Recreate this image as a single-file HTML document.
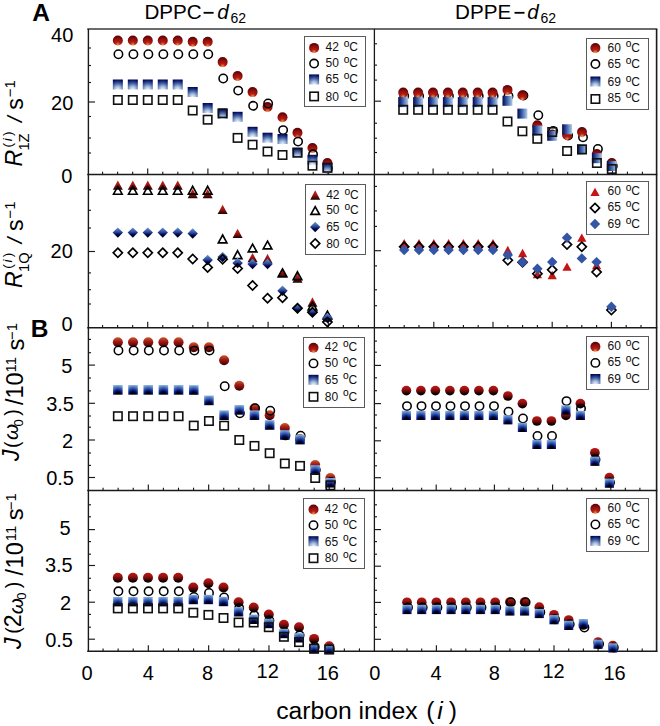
<!DOCTYPE html>
<html><head><meta charset="utf-8"><style>
html,body{margin:0;padding:0;background:#fff;}
body{width:660px;height:726px;overflow:hidden;font-family:"Liberation Sans", sans-serif;}
svg{display:block;}
</style></head><body>
<svg width="660" height="726" viewBox="0 0 660 726" font-family='"Liberation Sans", sans-serif' fill="#000">
<defs>
<radialGradient id="rA" cx="0.5" cy="0.9" r="0.8" fx="0.5" fy="0.92">
  <stop offset="0" stop-color="#e89450"/>
  <stop offset="0.16" stop-color="#d0602a"/>
  <stop offset="0.34" stop-color="#b41c14"/>
  <stop offset="0.7" stop-color="#950e0e"/>
  <stop offset="1" stop-color="#600606"/>
</radialGradient>
<linearGradient id="rB" x1="0" y1="0" x2="0" y2="1">
  <stop offset="0" stop-color="#c4622e"/>
  <stop offset="0.4" stop-color="#a81a16"/>
  <stop offset="0.75" stop-color="#6a0a0a"/>
  <stop offset="1" stop-color="#200404"/>
</linearGradient>
<linearGradient id="rC" x1="0" y1="0" x2="0" y2="1">
  <stop offset="0" stop-color="#b41a14"/>
  <stop offset="0.35" stop-color="#9c1010"/>
  <stop offset="0.62" stop-color="#560707"/>
  <stop offset="0.8" stop-color="#180101"/>
  <stop offset="1" stop-color="#000000"/>
</linearGradient>
<radialGradient id="bA" cx="0.5" cy="1.0" r="1.0">
  <stop offset="0" stop-color="#eef3fa"/>
  <stop offset="0.3" stop-color="#a8bcdc"/>
  <stop offset="0.62" stop-color="#40609e"/>
  <stop offset="0.86" stop-color="#14227a"/>
  <stop offset="1" stop-color="#060848"/>
</radialGradient>
<linearGradient id="bH" x1="0" y1="0" x2="1" y2="0">
  <stop offset="0" stop-color="#02064a"/>
  <stop offset="0.35" stop-color="#2a4a9a"/>
  <stop offset="1" stop-color="#b0cce8"/>
</linearGradient>
<radialGradient id="bB" cx="0.5" cy="1.0" r="1.0">
  <stop offset="0" stop-color="#000000"/>
  <stop offset="0.28" stop-color="#000018"/>
  <stop offset="0.45" stop-color="#0a1a80"/>
  <stop offset="0.72" stop-color="#3a66b4"/>
  <stop offset="1" stop-color="#84aadc"/>
</radialGradient>
<linearGradient id="tR" x1="0" y1="0" x2="0" y2="1">
  <stop offset="0" stop-color="#c42818"/>
  <stop offset="0.5" stop-color="#a01212"/>
  <stop offset="1" stop-color="#1a0202"/>
</linearGradient>
<linearGradient id="dB" x1="0" y1="0" x2="0" y2="1">
  <stop offset="0" stop-color="#6c9ad6"/>
  <stop offset="0.45" stop-color="#2a4a9a"/>
  <stop offset="0.7" stop-color="#000050"/>
  <stop offset="1" stop-color="#000000"/>
</linearGradient>
</defs>
<rect width="660" height="726" fill="#fff"/>
<line x1="87.25" y1="29.0" x2="657.35" y2="29.0" stroke="#3a3a3a" stroke-width="1.6"/>
<line x1="87.25" y1="174.5" x2="657.35" y2="174.5" stroke="#1a1a1a" stroke-width="1.6"/>
<line x1="87.25" y1="327.8" x2="657.35" y2="327.8" stroke="#1a1a1a" stroke-width="1.6"/>
<line x1="87.25" y1="490.5" x2="657.35" y2="490.5" stroke="#1a1a1a" stroke-width="1.6"/>
<line x1="87.25" y1="651.2" x2="657.35" y2="651.2" stroke="#1a1a1a" stroke-width="1.6"/>
<line x1="88.4" y1="29.0" x2="88.4" y2="651.95" stroke="#1a1a1a" stroke-width="1.4"/>
<line x1="374.4" y1="29.0" x2="374.4" y2="651.95" stroke="#1a1a1a" stroke-width="1.3"/>
<line x1="656.6" y1="29.0" x2="656.6" y2="651.95" stroke="#1a1a1a" stroke-width="1.6"/>
<line x1="102.55" y1="174.5" x2="102.55" y2="171.7" stroke="#1a1a1a" stroke-width="1.15"/>
<line x1="117.6" y1="174.5" x2="117.6" y2="171.7" stroke="#1a1a1a" stroke-width="1.15"/>
<line x1="132.65" y1="174.5" x2="132.65" y2="171.7" stroke="#1a1a1a" stroke-width="1.15"/>
<line x1="147.7" y1="174.5" x2="147.7" y2="168.5" stroke="#1a1a1a" stroke-width="1.15"/>
<line x1="162.75" y1="174.5" x2="162.75" y2="171.7" stroke="#1a1a1a" stroke-width="1.15"/>
<line x1="177.8" y1="174.5" x2="177.8" y2="171.7" stroke="#1a1a1a" stroke-width="1.15"/>
<line x1="192.85" y1="174.5" x2="192.85" y2="171.7" stroke="#1a1a1a" stroke-width="1.15"/>
<line x1="207.9" y1="174.5" x2="207.9" y2="168.5" stroke="#1a1a1a" stroke-width="1.15"/>
<line x1="222.95" y1="174.5" x2="222.95" y2="171.7" stroke="#1a1a1a" stroke-width="1.15"/>
<line x1="238.0" y1="174.5" x2="238.0" y2="171.7" stroke="#1a1a1a" stroke-width="1.15"/>
<line x1="253.05" y1="174.5" x2="253.05" y2="171.7" stroke="#1a1a1a" stroke-width="1.15"/>
<line x1="268.1" y1="174.5" x2="268.1" y2="168.5" stroke="#1a1a1a" stroke-width="1.15"/>
<line x1="283.15" y1="174.5" x2="283.15" y2="171.7" stroke="#1a1a1a" stroke-width="1.15"/>
<line x1="298.2" y1="174.5" x2="298.2" y2="171.7" stroke="#1a1a1a" stroke-width="1.15"/>
<line x1="313.25" y1="174.5" x2="313.25" y2="171.7" stroke="#1a1a1a" stroke-width="1.15"/>
<line x1="328.3" y1="174.5" x2="328.3" y2="168.5" stroke="#1a1a1a" stroke-width="1.15"/>
<line x1="343.35" y1="174.5" x2="343.35" y2="171.7" stroke="#1a1a1a" stroke-width="1.15"/>
<line x1="358.4" y1="174.5" x2="358.4" y2="171.7" stroke="#1a1a1a" stroke-width="1.15"/>
<line x1="102.55" y1="327.8" x2="102.55" y2="325.0" stroke="#1a1a1a" stroke-width="1.15"/>
<line x1="117.6" y1="327.8" x2="117.6" y2="325.0" stroke="#1a1a1a" stroke-width="1.15"/>
<line x1="132.65" y1="327.8" x2="132.65" y2="325.0" stroke="#1a1a1a" stroke-width="1.15"/>
<line x1="147.7" y1="327.8" x2="147.7" y2="321.8" stroke="#1a1a1a" stroke-width="1.15"/>
<line x1="162.75" y1="327.8" x2="162.75" y2="325.0" stroke="#1a1a1a" stroke-width="1.15"/>
<line x1="177.8" y1="327.8" x2="177.8" y2="325.0" stroke="#1a1a1a" stroke-width="1.15"/>
<line x1="192.85" y1="327.8" x2="192.85" y2="325.0" stroke="#1a1a1a" stroke-width="1.15"/>
<line x1="207.9" y1="327.8" x2="207.9" y2="321.8" stroke="#1a1a1a" stroke-width="1.15"/>
<line x1="222.95" y1="327.8" x2="222.95" y2="325.0" stroke="#1a1a1a" stroke-width="1.15"/>
<line x1="238.0" y1="327.8" x2="238.0" y2="325.0" stroke="#1a1a1a" stroke-width="1.15"/>
<line x1="253.05" y1="327.8" x2="253.05" y2="325.0" stroke="#1a1a1a" stroke-width="1.15"/>
<line x1="268.1" y1="327.8" x2="268.1" y2="321.8" stroke="#1a1a1a" stroke-width="1.15"/>
<line x1="283.15" y1="327.8" x2="283.15" y2="325.0" stroke="#1a1a1a" stroke-width="1.15"/>
<line x1="298.2" y1="327.8" x2="298.2" y2="325.0" stroke="#1a1a1a" stroke-width="1.15"/>
<line x1="313.25" y1="327.8" x2="313.25" y2="325.0" stroke="#1a1a1a" stroke-width="1.15"/>
<line x1="328.3" y1="327.8" x2="328.3" y2="321.8" stroke="#1a1a1a" stroke-width="1.15"/>
<line x1="343.35" y1="327.8" x2="343.35" y2="325.0" stroke="#1a1a1a" stroke-width="1.15"/>
<line x1="358.4" y1="327.8" x2="358.4" y2="325.0" stroke="#1a1a1a" stroke-width="1.15"/>
<line x1="103.08" y1="490.5" x2="103.08" y2="487.7" stroke="#1a1a1a" stroke-width="1.15"/>
<line x1="118.16" y1="490.5" x2="118.16" y2="487.7" stroke="#1a1a1a" stroke-width="1.15"/>
<line x1="133.24" y1="490.5" x2="133.24" y2="487.7" stroke="#1a1a1a" stroke-width="1.15"/>
<line x1="148.32" y1="490.5" x2="148.32" y2="484.5" stroke="#1a1a1a" stroke-width="1.15"/>
<line x1="163.4" y1="490.5" x2="163.4" y2="487.7" stroke="#1a1a1a" stroke-width="1.15"/>
<line x1="178.48" y1="490.5" x2="178.48" y2="487.7" stroke="#1a1a1a" stroke-width="1.15"/>
<line x1="193.56" y1="490.5" x2="193.56" y2="487.7" stroke="#1a1a1a" stroke-width="1.15"/>
<line x1="208.64" y1="490.5" x2="208.64" y2="484.5" stroke="#1a1a1a" stroke-width="1.15"/>
<line x1="223.72" y1="490.5" x2="223.72" y2="487.7" stroke="#1a1a1a" stroke-width="1.15"/>
<line x1="238.8" y1="490.5" x2="238.8" y2="487.7" stroke="#1a1a1a" stroke-width="1.15"/>
<line x1="253.88" y1="490.5" x2="253.88" y2="487.7" stroke="#1a1a1a" stroke-width="1.15"/>
<line x1="268.96" y1="490.5" x2="268.96" y2="484.5" stroke="#1a1a1a" stroke-width="1.15"/>
<line x1="284.04" y1="490.5" x2="284.04" y2="487.7" stroke="#1a1a1a" stroke-width="1.15"/>
<line x1="299.12" y1="490.5" x2="299.12" y2="487.7" stroke="#1a1a1a" stroke-width="1.15"/>
<line x1="314.2" y1="490.5" x2="314.2" y2="487.7" stroke="#1a1a1a" stroke-width="1.15"/>
<line x1="329.28" y1="490.5" x2="329.28" y2="484.5" stroke="#1a1a1a" stroke-width="1.15"/>
<line x1="344.36" y1="490.5" x2="344.36" y2="487.7" stroke="#1a1a1a" stroke-width="1.15"/>
<line x1="359.44" y1="490.5" x2="359.44" y2="487.7" stroke="#1a1a1a" stroke-width="1.15"/>
<line x1="103.08" y1="651.2" x2="103.08" y2="648.4000000000001" stroke="#1a1a1a" stroke-width="1.15"/>
<line x1="118.16" y1="651.2" x2="118.16" y2="648.4000000000001" stroke="#1a1a1a" stroke-width="1.15"/>
<line x1="133.24" y1="651.2" x2="133.24" y2="648.4000000000001" stroke="#1a1a1a" stroke-width="1.15"/>
<line x1="148.32" y1="651.2" x2="148.32" y2="645.2" stroke="#1a1a1a" stroke-width="1.15"/>
<line x1="163.4" y1="651.2" x2="163.4" y2="648.4000000000001" stroke="#1a1a1a" stroke-width="1.15"/>
<line x1="178.48" y1="651.2" x2="178.48" y2="648.4000000000001" stroke="#1a1a1a" stroke-width="1.15"/>
<line x1="193.56" y1="651.2" x2="193.56" y2="648.4000000000001" stroke="#1a1a1a" stroke-width="1.15"/>
<line x1="208.64" y1="651.2" x2="208.64" y2="645.2" stroke="#1a1a1a" stroke-width="1.15"/>
<line x1="223.72" y1="651.2" x2="223.72" y2="648.4000000000001" stroke="#1a1a1a" stroke-width="1.15"/>
<line x1="238.8" y1="651.2" x2="238.8" y2="648.4000000000001" stroke="#1a1a1a" stroke-width="1.15"/>
<line x1="253.88" y1="651.2" x2="253.88" y2="648.4000000000001" stroke="#1a1a1a" stroke-width="1.15"/>
<line x1="268.96" y1="651.2" x2="268.96" y2="645.2" stroke="#1a1a1a" stroke-width="1.15"/>
<line x1="284.04" y1="651.2" x2="284.04" y2="648.4000000000001" stroke="#1a1a1a" stroke-width="1.15"/>
<line x1="299.12" y1="651.2" x2="299.12" y2="648.4000000000001" stroke="#1a1a1a" stroke-width="1.15"/>
<line x1="314.2" y1="651.2" x2="314.2" y2="648.4000000000001" stroke="#1a1a1a" stroke-width="1.15"/>
<line x1="329.28" y1="651.2" x2="329.28" y2="645.2" stroke="#1a1a1a" stroke-width="1.15"/>
<line x1="344.36" y1="651.2" x2="344.36" y2="648.4000000000001" stroke="#1a1a1a" stroke-width="1.15"/>
<line x1="359.44" y1="651.2" x2="359.44" y2="648.4000000000001" stroke="#1a1a1a" stroke-width="1.15"/>
<line x1="388.25" y1="174.5" x2="388.25" y2="171.7" stroke="#1a1a1a" stroke-width="1.15"/>
<line x1="403.2" y1="174.5" x2="403.2" y2="171.7" stroke="#1a1a1a" stroke-width="1.15"/>
<line x1="418.15" y1="174.5" x2="418.15" y2="171.7" stroke="#1a1a1a" stroke-width="1.15"/>
<line x1="433.1" y1="174.5" x2="433.1" y2="168.5" stroke="#1a1a1a" stroke-width="1.15"/>
<line x1="448.05" y1="174.5" x2="448.05" y2="171.7" stroke="#1a1a1a" stroke-width="1.15"/>
<line x1="463.0" y1="174.5" x2="463.0" y2="171.7" stroke="#1a1a1a" stroke-width="1.15"/>
<line x1="477.95" y1="174.5" x2="477.95" y2="171.7" stroke="#1a1a1a" stroke-width="1.15"/>
<line x1="492.9" y1="174.5" x2="492.9" y2="168.5" stroke="#1a1a1a" stroke-width="1.15"/>
<line x1="507.85" y1="174.5" x2="507.85" y2="171.7" stroke="#1a1a1a" stroke-width="1.15"/>
<line x1="522.8" y1="174.5" x2="522.8" y2="171.7" stroke="#1a1a1a" stroke-width="1.15"/>
<line x1="537.75" y1="174.5" x2="537.75" y2="171.7" stroke="#1a1a1a" stroke-width="1.15"/>
<line x1="552.7" y1="174.5" x2="552.7" y2="168.5" stroke="#1a1a1a" stroke-width="1.15"/>
<line x1="567.65" y1="174.5" x2="567.65" y2="171.7" stroke="#1a1a1a" stroke-width="1.15"/>
<line x1="582.6" y1="174.5" x2="582.6" y2="171.7" stroke="#1a1a1a" stroke-width="1.15"/>
<line x1="597.55" y1="174.5" x2="597.55" y2="171.7" stroke="#1a1a1a" stroke-width="1.15"/>
<line x1="612.5" y1="174.5" x2="612.5" y2="168.5" stroke="#1a1a1a" stroke-width="1.15"/>
<line x1="627.45" y1="174.5" x2="627.45" y2="171.7" stroke="#1a1a1a" stroke-width="1.15"/>
<line x1="642.4" y1="174.5" x2="642.4" y2="171.7" stroke="#1a1a1a" stroke-width="1.15"/>
<line x1="389.4" y1="327.8" x2="389.4" y2="325.0" stroke="#1a1a1a" stroke-width="1.15"/>
<line x1="404.2" y1="327.8" x2="404.2" y2="325.0" stroke="#1a1a1a" stroke-width="1.15"/>
<line x1="419.0" y1="327.8" x2="419.0" y2="325.0" stroke="#1a1a1a" stroke-width="1.15"/>
<line x1="433.8" y1="327.8" x2="433.8" y2="321.8" stroke="#1a1a1a" stroke-width="1.15"/>
<line x1="448.6" y1="327.8" x2="448.6" y2="325.0" stroke="#1a1a1a" stroke-width="1.15"/>
<line x1="463.4" y1="327.8" x2="463.4" y2="325.0" stroke="#1a1a1a" stroke-width="1.15"/>
<line x1="478.2" y1="327.8" x2="478.2" y2="325.0" stroke="#1a1a1a" stroke-width="1.15"/>
<line x1="493.0" y1="327.8" x2="493.0" y2="321.8" stroke="#1a1a1a" stroke-width="1.15"/>
<line x1="507.8" y1="327.8" x2="507.8" y2="325.0" stroke="#1a1a1a" stroke-width="1.15"/>
<line x1="522.6" y1="327.8" x2="522.6" y2="325.0" stroke="#1a1a1a" stroke-width="1.15"/>
<line x1="537.4" y1="327.8" x2="537.4" y2="325.0" stroke="#1a1a1a" stroke-width="1.15"/>
<line x1="552.2" y1="327.8" x2="552.2" y2="321.8" stroke="#1a1a1a" stroke-width="1.15"/>
<line x1="567.0" y1="327.8" x2="567.0" y2="325.0" stroke="#1a1a1a" stroke-width="1.15"/>
<line x1="581.8" y1="327.8" x2="581.8" y2="325.0" stroke="#1a1a1a" stroke-width="1.15"/>
<line x1="596.6" y1="327.8" x2="596.6" y2="325.0" stroke="#1a1a1a" stroke-width="1.15"/>
<line x1="611.4" y1="327.8" x2="611.4" y2="321.8" stroke="#1a1a1a" stroke-width="1.15"/>
<line x1="626.2" y1="327.8" x2="626.2" y2="325.0" stroke="#1a1a1a" stroke-width="1.15"/>
<line x1="641.0" y1="327.8" x2="641.0" y2="325.0" stroke="#1a1a1a" stroke-width="1.15"/>
<line x1="392.55" y1="490.5" x2="392.55" y2="487.7" stroke="#1a1a1a" stroke-width="1.15"/>
<line x1="407.1" y1="490.5" x2="407.1" y2="487.7" stroke="#1a1a1a" stroke-width="1.15"/>
<line x1="421.65" y1="490.5" x2="421.65" y2="487.7" stroke="#1a1a1a" stroke-width="1.15"/>
<line x1="436.2" y1="490.5" x2="436.2" y2="484.5" stroke="#1a1a1a" stroke-width="1.15"/>
<line x1="450.75" y1="490.5" x2="450.75" y2="487.7" stroke="#1a1a1a" stroke-width="1.15"/>
<line x1="465.3" y1="490.5" x2="465.3" y2="487.7" stroke="#1a1a1a" stroke-width="1.15"/>
<line x1="479.85" y1="490.5" x2="479.85" y2="487.7" stroke="#1a1a1a" stroke-width="1.15"/>
<line x1="494.4" y1="490.5" x2="494.4" y2="484.5" stroke="#1a1a1a" stroke-width="1.15"/>
<line x1="508.95" y1="490.5" x2="508.95" y2="487.7" stroke="#1a1a1a" stroke-width="1.15"/>
<line x1="523.5" y1="490.5" x2="523.5" y2="487.7" stroke="#1a1a1a" stroke-width="1.15"/>
<line x1="538.05" y1="490.5" x2="538.05" y2="487.7" stroke="#1a1a1a" stroke-width="1.15"/>
<line x1="552.6" y1="490.5" x2="552.6" y2="484.5" stroke="#1a1a1a" stroke-width="1.15"/>
<line x1="567.15" y1="490.5" x2="567.15" y2="487.7" stroke="#1a1a1a" stroke-width="1.15"/>
<line x1="581.7" y1="490.5" x2="581.7" y2="487.7" stroke="#1a1a1a" stroke-width="1.15"/>
<line x1="596.25" y1="490.5" x2="596.25" y2="487.7" stroke="#1a1a1a" stroke-width="1.15"/>
<line x1="610.8" y1="490.5" x2="610.8" y2="484.5" stroke="#1a1a1a" stroke-width="1.15"/>
<line x1="625.35" y1="490.5" x2="625.35" y2="487.7" stroke="#1a1a1a" stroke-width="1.15"/>
<line x1="639.9" y1="490.5" x2="639.9" y2="487.7" stroke="#1a1a1a" stroke-width="1.15"/>
<line x1="392.3" y1="651.2" x2="392.3" y2="648.4000000000001" stroke="#1a1a1a" stroke-width="1.15"/>
<line x1="407.0" y1="651.2" x2="407.0" y2="648.4000000000001" stroke="#1a1a1a" stroke-width="1.15"/>
<line x1="421.7" y1="651.2" x2="421.7" y2="648.4000000000001" stroke="#1a1a1a" stroke-width="1.15"/>
<line x1="436.4" y1="651.2" x2="436.4" y2="645.2" stroke="#1a1a1a" stroke-width="1.15"/>
<line x1="451.1" y1="651.2" x2="451.1" y2="648.4000000000001" stroke="#1a1a1a" stroke-width="1.15"/>
<line x1="465.8" y1="651.2" x2="465.8" y2="648.4000000000001" stroke="#1a1a1a" stroke-width="1.15"/>
<line x1="480.5" y1="651.2" x2="480.5" y2="648.4000000000001" stroke="#1a1a1a" stroke-width="1.15"/>
<line x1="495.2" y1="651.2" x2="495.2" y2="645.2" stroke="#1a1a1a" stroke-width="1.15"/>
<line x1="509.9" y1="651.2" x2="509.9" y2="648.4000000000001" stroke="#1a1a1a" stroke-width="1.15"/>
<line x1="524.6" y1="651.2" x2="524.6" y2="648.4000000000001" stroke="#1a1a1a" stroke-width="1.15"/>
<line x1="539.3" y1="651.2" x2="539.3" y2="648.4000000000001" stroke="#1a1a1a" stroke-width="1.15"/>
<line x1="554.0" y1="651.2" x2="554.0" y2="645.2" stroke="#1a1a1a" stroke-width="1.15"/>
<line x1="568.7" y1="651.2" x2="568.7" y2="648.4000000000001" stroke="#1a1a1a" stroke-width="1.15"/>
<line x1="583.4" y1="651.2" x2="583.4" y2="648.4000000000001" stroke="#1a1a1a" stroke-width="1.15"/>
<line x1="598.1" y1="651.2" x2="598.1" y2="648.4000000000001" stroke="#1a1a1a" stroke-width="1.15"/>
<line x1="612.8" y1="651.2" x2="612.8" y2="645.2" stroke="#1a1a1a" stroke-width="1.15"/>
<line x1="627.5" y1="651.2" x2="627.5" y2="648.4000000000001" stroke="#1a1a1a" stroke-width="1.15"/>
<line x1="642.2" y1="651.2" x2="642.2" y2="648.4000000000001" stroke="#1a1a1a" stroke-width="1.15"/>
<line x1="88.0" y1="102.0" x2="95.0" y2="102.0" stroke="#1a1a1a" stroke-width="1.15"/>
<line x1="88.0" y1="48.0" x2="91.0" y2="48.0" stroke="#1a1a1a" stroke-width="1.15"/>
<line x1="88.0" y1="65.5" x2="91.0" y2="65.5" stroke="#1a1a1a" stroke-width="1.15"/>
<line x1="88.0" y1="82.5" x2="91.0" y2="82.5" stroke="#1a1a1a" stroke-width="1.15"/>
<line x1="88.0" y1="116.5" x2="91.0" y2="116.5" stroke="#1a1a1a" stroke-width="1.15"/>
<line x1="88.0" y1="138.0" x2="91.0" y2="138.0" stroke="#1a1a1a" stroke-width="1.15"/>
<line x1="88.0" y1="153.0" x2="91.0" y2="153.0" stroke="#1a1a1a" stroke-width="1.15"/>
<line x1="374.0" y1="101.2" x2="381.0" y2="101.2" stroke="#1a1a1a" stroke-width="1.15"/>
<line x1="374.0" y1="43.8" x2="377.0" y2="43.8" stroke="#1a1a1a" stroke-width="1.15"/>
<line x1="374.0" y1="65.1" x2="377.0" y2="65.1" stroke="#1a1a1a" stroke-width="1.15"/>
<line x1="374.0" y1="80.1" x2="377.0" y2="80.1" stroke="#1a1a1a" stroke-width="1.15"/>
<line x1="374.0" y1="123.2" x2="377.0" y2="123.2" stroke="#1a1a1a" stroke-width="1.15"/>
<line x1="374.0" y1="138.2" x2="377.0" y2="138.2" stroke="#1a1a1a" stroke-width="1.15"/>
<line x1="374.0" y1="152.5" x2="377.0" y2="152.5" stroke="#1a1a1a" stroke-width="1.15"/>
<line x1="88.0" y1="251.5" x2="95.0" y2="251.5" stroke="#1a1a1a" stroke-width="1.15"/>
<line x1="88.0" y1="189.8" x2="91.0" y2="189.8" stroke="#1a1a1a" stroke-width="1.15"/>
<line x1="88.0" y1="210.3" x2="91.0" y2="210.3" stroke="#1a1a1a" stroke-width="1.15"/>
<line x1="88.0" y1="228.0" x2="91.0" y2="228.0" stroke="#1a1a1a" stroke-width="1.15"/>
<line x1="88.0" y1="272.9" x2="91.0" y2="272.9" stroke="#1a1a1a" stroke-width="1.15"/>
<line x1="88.0" y1="289.7" x2="91.0" y2="289.7" stroke="#1a1a1a" stroke-width="1.15"/>
<line x1="88.0" y1="304.0" x2="91.0" y2="304.0" stroke="#1a1a1a" stroke-width="1.15"/>
<line x1="374.0" y1="250.7" x2="381.0" y2="250.7" stroke="#1a1a1a" stroke-width="1.15"/>
<line x1="374.0" y1="186.4" x2="377.0" y2="186.4" stroke="#1a1a1a" stroke-width="1.15"/>
<line x1="374.0" y1="210.9" x2="377.0" y2="210.9" stroke="#1a1a1a" stroke-width="1.15"/>
<line x1="374.0" y1="226.4" x2="377.0" y2="226.4" stroke="#1a1a1a" stroke-width="1.15"/>
<line x1="374.0" y1="265.9" x2="377.0" y2="265.9" stroke="#1a1a1a" stroke-width="1.15"/>
<line x1="374.0" y1="289.8" x2="377.0" y2="289.8" stroke="#1a1a1a" stroke-width="1.15"/>
<line x1="374.0" y1="305.7" x2="377.0" y2="305.7" stroke="#1a1a1a" stroke-width="1.15"/>
<line x1="88.0" y1="365.1" x2="95.0" y2="365.1" stroke="#1a1a1a" stroke-width="1.15"/>
<line x1="88.0" y1="403.3" x2="95.0" y2="403.3" stroke="#1a1a1a" stroke-width="1.15"/>
<line x1="88.0" y1="440.0" x2="95.0" y2="440.0" stroke="#1a1a1a" stroke-width="1.15"/>
<line x1="88.0" y1="477.5" x2="95.0" y2="477.5" stroke="#1a1a1a" stroke-width="1.15"/>
<line x1="88.0" y1="339.4" x2="91.0" y2="339.4" stroke="#1a1a1a" stroke-width="1.15"/>
<line x1="88.0" y1="352.7" x2="91.0" y2="352.7" stroke="#1a1a1a" stroke-width="1.15"/>
<line x1="88.0" y1="378.0" x2="91.0" y2="378.0" stroke="#1a1a1a" stroke-width="1.15"/>
<line x1="88.0" y1="390.9" x2="91.0" y2="390.9" stroke="#1a1a1a" stroke-width="1.15"/>
<line x1="88.0" y1="416.0" x2="91.0" y2="416.0" stroke="#1a1a1a" stroke-width="1.15"/>
<line x1="88.0" y1="427.2" x2="91.0" y2="427.2" stroke="#1a1a1a" stroke-width="1.15"/>
<line x1="88.0" y1="453.0" x2="91.0" y2="453.0" stroke="#1a1a1a" stroke-width="1.15"/>
<line x1="88.0" y1="465.4" x2="91.0" y2="465.4" stroke="#1a1a1a" stroke-width="1.15"/>
<line x1="374.0" y1="365.4" x2="381.0" y2="365.4" stroke="#1a1a1a" stroke-width="1.15"/>
<line x1="374.0" y1="403.6" x2="381.0" y2="403.6" stroke="#1a1a1a" stroke-width="1.15"/>
<line x1="374.0" y1="440.8" x2="381.0" y2="440.8" stroke="#1a1a1a" stroke-width="1.15"/>
<line x1="374.0" y1="477.7" x2="381.0" y2="477.7" stroke="#1a1a1a" stroke-width="1.15"/>
<line x1="374.0" y1="341.1" x2="377.0" y2="341.1" stroke="#1a1a1a" stroke-width="1.15"/>
<line x1="374.0" y1="352.2" x2="377.0" y2="352.2" stroke="#1a1a1a" stroke-width="1.15"/>
<line x1="374.0" y1="377.8" x2="377.0" y2="377.8" stroke="#1a1a1a" stroke-width="1.15"/>
<line x1="374.0" y1="390.7" x2="377.0" y2="390.7" stroke="#1a1a1a" stroke-width="1.15"/>
<line x1="374.0" y1="415.0" x2="377.0" y2="415.0" stroke="#1a1a1a" stroke-width="1.15"/>
<line x1="374.0" y1="427.9" x2="377.0" y2="427.9" stroke="#1a1a1a" stroke-width="1.15"/>
<line x1="374.0" y1="453.2" x2="377.0" y2="453.2" stroke="#1a1a1a" stroke-width="1.15"/>
<line x1="374.0" y1="465.8" x2="377.0" y2="465.8" stroke="#1a1a1a" stroke-width="1.15"/>
<line x1="88.0" y1="529.6" x2="95.0" y2="529.6" stroke="#1a1a1a" stroke-width="1.15"/>
<line x1="88.0" y1="565.5" x2="95.0" y2="565.5" stroke="#1a1a1a" stroke-width="1.15"/>
<line x1="88.0" y1="602.2" x2="95.0" y2="602.2" stroke="#1a1a1a" stroke-width="1.15"/>
<line x1="88.0" y1="639.2" x2="95.0" y2="639.2" stroke="#1a1a1a" stroke-width="1.15"/>
<line x1="88.0" y1="504.8" x2="91.0" y2="504.8" stroke="#1a1a1a" stroke-width="1.15"/>
<line x1="88.0" y1="516.8" x2="91.0" y2="516.8" stroke="#1a1a1a" stroke-width="1.15"/>
<line x1="88.0" y1="541.6" x2="91.0" y2="541.6" stroke="#1a1a1a" stroke-width="1.15"/>
<line x1="88.0" y1="554.2" x2="91.0" y2="554.2" stroke="#1a1a1a" stroke-width="1.15"/>
<line x1="88.0" y1="578.3" x2="91.0" y2="578.3" stroke="#1a1a1a" stroke-width="1.15"/>
<line x1="88.0" y1="590.3" x2="91.0" y2="590.3" stroke="#1a1a1a" stroke-width="1.15"/>
<line x1="88.0" y1="614.4" x2="91.0" y2="614.4" stroke="#1a1a1a" stroke-width="1.15"/>
<line x1="88.0" y1="627.2" x2="91.0" y2="627.2" stroke="#1a1a1a" stroke-width="1.15"/>
<line x1="374.0" y1="529.6" x2="381.0" y2="529.6" stroke="#1a1a1a" stroke-width="1.15"/>
<line x1="374.0" y1="566.2" x2="381.0" y2="566.2" stroke="#1a1a1a" stroke-width="1.15"/>
<line x1="374.0" y1="602.4" x2="381.0" y2="602.4" stroke="#1a1a1a" stroke-width="1.15"/>
<line x1="374.0" y1="639.3" x2="381.0" y2="639.3" stroke="#1a1a1a" stroke-width="1.15"/>
<line x1="374.0" y1="504.8" x2="377.0" y2="504.8" stroke="#1a1a1a" stroke-width="1.15"/>
<line x1="374.0" y1="516.8" x2="377.0" y2="516.8" stroke="#1a1a1a" stroke-width="1.15"/>
<line x1="374.0" y1="541.6" x2="377.0" y2="541.6" stroke="#1a1a1a" stroke-width="1.15"/>
<line x1="374.0" y1="554.2" x2="377.0" y2="554.2" stroke="#1a1a1a" stroke-width="1.15"/>
<line x1="374.0" y1="578.3" x2="377.0" y2="578.3" stroke="#1a1a1a" stroke-width="1.15"/>
<line x1="374.0" y1="590.3" x2="377.0" y2="590.3" stroke="#1a1a1a" stroke-width="1.15"/>
<line x1="374.0" y1="614.4" x2="377.0" y2="614.4" stroke="#1a1a1a" stroke-width="1.15"/>
<line x1="374.0" y1="627.2" x2="377.0" y2="627.2" stroke="#1a1a1a" stroke-width="1.15"/>
<circle cx="117.84" cy="40.50" r="5.0" fill="url(#rA)"/>
<circle cx="132.81" cy="40.50" r="5.0" fill="url(#rA)"/>
<circle cx="147.78" cy="40.50" r="5.0" fill="url(#rA)"/>
<circle cx="162.75" cy="40.50" r="5.0" fill="url(#rA)"/>
<circle cx="177.72" cy="40.50" r="5.0" fill="url(#rA)"/>
<circle cx="192.69" cy="41.80" r="5.0" fill="url(#rA)"/>
<circle cx="207.66" cy="41.80" r="5.0" fill="url(#rA)"/>
<circle cx="222.63" cy="62.10" r="5.0" fill="url(#rA)"/>
<circle cx="237.60" cy="76.00" r="5.0" fill="url(#rA)"/>
<circle cx="252.57" cy="92.10" r="5.0" fill="url(#rA)"/>
<circle cx="267.54" cy="107.00" r="5.0" fill="url(#rA)"/>
<circle cx="282.51" cy="117.20" r="5.0" fill="url(#rA)"/>
<circle cx="297.48" cy="132.80" r="5.0" fill="url(#rA)"/>
<circle cx="312.45" cy="148.00" r="5.0" fill="url(#rA)"/>
<circle cx="327.42" cy="163.00" r="5.0" fill="url(#rA)"/>
<circle cx="118.44" cy="54.20" r="4.2" fill="none" stroke="#000" stroke-width="1.55"/>
<circle cx="133.41" cy="54.20" r="4.2" fill="none" stroke="#000" stroke-width="1.55"/>
<circle cx="148.38" cy="54.20" r="4.2" fill="none" stroke="#000" stroke-width="1.55"/>
<circle cx="163.35" cy="54.20" r="4.2" fill="none" stroke="#000" stroke-width="1.55"/>
<circle cx="178.32" cy="54.20" r="4.2" fill="none" stroke="#000" stroke-width="1.55"/>
<circle cx="193.29" cy="54.20" r="4.2" fill="none" stroke="#000" stroke-width="1.55"/>
<circle cx="208.26" cy="54.20" r="4.2" fill="none" stroke="#000" stroke-width="1.55"/>
<circle cx="223.23" cy="78.50" r="4.2" fill="none" stroke="#000" stroke-width="1.55"/>
<circle cx="238.20" cy="90.60" r="4.2" fill="none" stroke="#000" stroke-width="1.55"/>
<circle cx="253.17" cy="105.80" r="4.2" fill="none" stroke="#000" stroke-width="1.55"/>
<circle cx="268.14" cy="103.50" r="4.2" fill="none" stroke="#000" stroke-width="1.55"/>
<circle cx="283.11" cy="130.10" r="4.2" fill="none" stroke="#000" stroke-width="1.55"/>
<circle cx="298.08" cy="141.60" r="4.2" fill="none" stroke="#000" stroke-width="1.55"/>
<circle cx="313.05" cy="154.30" r="4.2" fill="none" stroke="#000" stroke-width="1.55"/>
<circle cx="328.02" cy="168.50" r="4.2" fill="none" stroke="#000" stroke-width="1.55"/>
<rect x="112.84" y="79.50" width="10.0" height="10.0" fill="url(#bA)"/>
<rect x="127.81" y="79.50" width="10.0" height="10.0" fill="url(#bA)"/>
<rect x="142.78" y="79.50" width="10.0" height="10.0" fill="url(#bA)"/>
<rect x="157.75" y="79.50" width="10.0" height="10.0" fill="url(#bA)"/>
<rect x="172.72" y="79.50" width="10.0" height="10.0" fill="url(#bA)"/>
<rect x="187.69" y="87.00" width="10.0" height="10.0" fill="url(#bA)"/>
<rect x="202.66" y="103.00" width="10.0" height="10.0" fill="url(#bA)"/>
<rect x="217.63" y="109.00" width="10.0" height="10.0" fill="url(#bA)"/>
<rect x="232.60" y="111.80" width="10.0" height="10.0" fill="url(#bA)"/>
<rect x="247.57" y="126.80" width="10.0" height="10.0" fill="url(#bA)"/>
<rect x="262.54" y="132.70" width="10.0" height="10.0" fill="url(#bA)"/>
<rect x="277.51" y="134.00" width="10.0" height="10.0" fill="url(#bA)"/>
<rect x="292.48" y="147.70" width="10.0" height="10.0" fill="url(#bA)"/>
<rect x="307.45" y="154.80" width="10.0" height="10.0" fill="url(#bA)"/>
<rect x="322.42" y="162.80" width="10.0" height="10.0" fill="url(#bA)"/>
<rect x="113.64" y="95.80" width="8.4" height="8.4" fill="none" stroke="#111" stroke-width="1.6"/>
<rect x="128.61" y="95.80" width="8.4" height="8.4" fill="none" stroke="#111" stroke-width="1.6"/>
<rect x="143.58" y="95.80" width="8.4" height="8.4" fill="none" stroke="#111" stroke-width="1.6"/>
<rect x="158.55" y="95.80" width="8.4" height="8.4" fill="none" stroke="#111" stroke-width="1.6"/>
<rect x="173.52" y="95.80" width="8.4" height="8.4" fill="none" stroke="#111" stroke-width="1.6"/>
<rect x="188.49" y="106.30" width="8.4" height="8.4" fill="none" stroke="#111" stroke-width="1.6"/>
<rect x="203.46" y="115.50" width="8.4" height="8.4" fill="none" stroke="#111" stroke-width="1.6"/>
<rect x="218.43" y="109.00" width="8.4" height="8.4" fill="none" stroke="#111" stroke-width="1.6"/>
<rect x="233.40" y="133.70" width="8.4" height="8.4" fill="none" stroke="#111" stroke-width="1.6"/>
<rect x="248.37" y="140.50" width="8.4" height="8.4" fill="none" stroke="#111" stroke-width="1.6"/>
<rect x="263.34" y="147.30" width="8.4" height="8.4" fill="none" stroke="#111" stroke-width="1.6"/>
<rect x="278.31" y="150.80" width="8.4" height="8.4" fill="none" stroke="#111" stroke-width="1.6"/>
<rect x="293.28" y="148.50" width="8.4" height="8.4" fill="none" stroke="#111" stroke-width="1.6"/>
<rect x="308.25" y="161.50" width="8.4" height="8.4" fill="none" stroke="#111" stroke-width="1.6"/>
<rect x="323.22" y="163.60" width="8.4" height="8.4" fill="none" stroke="#111" stroke-width="1.6"/>
<path d="M117.84 180.55 L122.84 189.85 L112.84 189.85Z" fill="url(#tR)"/>
<path d="M132.81 180.55 L137.81 189.85 L127.81 189.85Z" fill="url(#tR)"/>
<path d="M147.78 180.55 L152.78 189.85 L142.78 189.85Z" fill="url(#tR)"/>
<path d="M162.75 180.55 L167.75 189.85 L157.75 189.85Z" fill="url(#tR)"/>
<path d="M177.72 180.55 L182.72 189.85 L172.72 189.85Z" fill="url(#tR)"/>
<path d="M192.69 189.05 L197.69 198.35 L187.69 198.35Z" fill="url(#tR)"/>
<path d="M207.66 189.05 L212.66 198.35 L202.66 198.35Z" fill="url(#tR)"/>
<path d="M222.63 204.75 L227.63 214.05 L217.63 214.05Z" fill="url(#tR)"/>
<path d="M237.60 228.75 L242.60 238.05 L232.60 238.05Z" fill="url(#tR)"/>
<path d="M252.57 252.95 L257.57 262.25 L247.57 262.25Z" fill="url(#tR)"/>
<path d="M267.54 253.85 L272.54 263.15 L262.54 263.15Z" fill="url(#tR)"/>
<path d="M282.51 268.15 L287.51 277.45 L277.51 277.45Z" fill="url(#tR)"/>
<path d="M297.48 273.35 L302.48 282.65 L292.48 282.65Z" fill="url(#tR)"/>
<path d="M312.45 297.35 L317.45 306.65 L307.45 306.65Z" fill="url(#tR)"/>
<path d="M327.42 312.35 L332.42 321.65 L322.42 321.65Z" fill="url(#tR)"/>
<path d="M117.84 186.40 L122.14 194.20 L113.54 194.20Z" fill="none" stroke="#000" stroke-width="1.65" stroke-linejoin="miter"/>
<path d="M132.81 186.40 L137.11 194.20 L128.51 194.20Z" fill="none" stroke="#000" stroke-width="1.65" stroke-linejoin="miter"/>
<path d="M147.78 186.40 L152.08 194.20 L143.48 194.20Z" fill="none" stroke="#000" stroke-width="1.65" stroke-linejoin="miter"/>
<path d="M162.75 186.40 L167.05 194.20 L158.45 194.20Z" fill="none" stroke="#000" stroke-width="1.65" stroke-linejoin="miter"/>
<path d="M177.72 186.40 L182.02 194.20 L173.42 194.20Z" fill="none" stroke="#000" stroke-width="1.65" stroke-linejoin="miter"/>
<path d="M192.69 186.30 L196.99 194.10 L188.39 194.10Z" fill="none" stroke="#000" stroke-width="1.65" stroke-linejoin="miter"/>
<path d="M207.66 186.30 L211.96 194.10 L203.36 194.10Z" fill="none" stroke="#000" stroke-width="1.65" stroke-linejoin="miter"/>
<path d="M222.63 235.00 L226.93 242.80 L218.33 242.80Z" fill="none" stroke="#000" stroke-width="1.65" stroke-linejoin="miter"/>
<path d="M237.60 250.80 L241.90 258.60 L233.30 258.60Z" fill="none" stroke="#000" stroke-width="1.65" stroke-linejoin="miter"/>
<path d="M252.57 244.10 L256.87 251.90 L248.27 251.90Z" fill="none" stroke="#000" stroke-width="1.65" stroke-linejoin="miter"/>
<path d="M267.54 241.10 L271.84 248.90 L263.24 248.90Z" fill="none" stroke="#000" stroke-width="1.65" stroke-linejoin="miter"/>
<path d="M282.51 268.90 L286.81 276.70 L278.21 276.70Z" fill="none" stroke="#000" stroke-width="1.65" stroke-linejoin="miter"/>
<path d="M297.48 271.80 L301.78 279.60 L293.18 279.60Z" fill="none" stroke="#000" stroke-width="1.65" stroke-linejoin="miter"/>
<path d="M312.45 302.10 L316.75 309.90 L308.15 309.90Z" fill="none" stroke="#000" stroke-width="1.65" stroke-linejoin="miter"/>
<path d="M327.42 311.10 L331.72 318.90 L323.12 318.90Z" fill="none" stroke="#000" stroke-width="1.65" stroke-linejoin="miter"/>
<path d="M117.84 227.40 L123.04 232.60 L117.84 237.80 L112.64 232.60Z" fill="url(#dB)"/>
<path d="M132.81 227.40 L138.01 232.60 L132.81 237.80 L127.61 232.60Z" fill="url(#dB)"/>
<path d="M147.78 227.40 L152.98 232.60 L147.78 237.80 L142.58 232.60Z" fill="url(#dB)"/>
<path d="M162.75 227.40 L167.95 232.60 L162.75 237.80 L157.55 232.60Z" fill="url(#dB)"/>
<path d="M177.72 227.40 L182.92 232.60 L177.72 237.80 L172.52 232.60Z" fill="url(#dB)"/>
<path d="M192.69 228.30 L197.89 233.50 L192.69 238.70 L187.49 233.50Z" fill="url(#dB)"/>
<path d="M207.66 254.80 L212.86 260.00 L207.66 265.20 L202.46 260.00Z" fill="url(#dB)"/>
<path d="M222.63 251.80 L227.83 257.00 L222.63 262.20 L217.43 257.00Z" fill="url(#dB)"/>
<path d="M237.60 257.80 L242.80 263.00 L237.60 268.20 L232.40 263.00Z" fill="url(#dB)"/>
<path d="M252.57 258.80 L257.77 264.00 L252.57 269.20 L247.37 264.00Z" fill="url(#dB)"/>
<path d="M267.54 258.80 L272.74 264.00 L267.54 269.20 L262.34 264.00Z" fill="url(#dB)"/>
<path d="M282.51 285.60 L287.71 290.80 L282.51 296.00 L277.31 290.80Z" fill="url(#dB)"/>
<path d="M297.48 303.10 L302.68 308.30 L297.48 313.50 L292.28 308.30Z" fill="url(#dB)"/>
<path d="M312.45 306.80 L317.65 312.00 L312.45 317.20 L307.25 312.00Z" fill="url(#dB)"/>
<path d="M327.42 312.80 L332.62 318.00 L327.42 323.20 L322.22 318.00Z" fill="url(#dB)"/>
<path d="M117.84 248.20 L122.44 252.80 L117.84 257.40 L113.24 252.80Z" fill="none" stroke="#000" stroke-width="1.65"/>
<path d="M132.81 248.20 L137.41 252.80 L132.81 257.40 L128.21 252.80Z" fill="none" stroke="#000" stroke-width="1.65"/>
<path d="M147.78 248.20 L152.38 252.80 L147.78 257.40 L143.18 252.80Z" fill="none" stroke="#000" stroke-width="1.65"/>
<path d="M162.75 248.20 L167.35 252.80 L162.75 257.40 L158.15 252.80Z" fill="none" stroke="#000" stroke-width="1.65"/>
<path d="M177.72 248.20 L182.32 252.80 L177.72 257.40 L173.12 252.80Z" fill="none" stroke="#000" stroke-width="1.65"/>
<path d="M192.69 254.40 L197.29 259.00 L192.69 263.60 L188.09 259.00Z" fill="none" stroke="#000" stroke-width="1.65"/>
<path d="M207.66 262.80 L212.26 267.40 L207.66 272.00 L203.06 267.40Z" fill="none" stroke="#000" stroke-width="1.65"/>
<path d="M222.63 254.70 L227.23 259.30 L222.63 263.90 L218.03 259.30Z" fill="none" stroke="#000" stroke-width="1.65"/>
<path d="M237.60 263.90 L242.20 268.50 L237.60 273.10 L233.00 268.50Z" fill="none" stroke="#000" stroke-width="1.65"/>
<path d="M252.57 280.90 L257.17 285.50 L252.57 290.10 L247.97 285.50Z" fill="none" stroke="#000" stroke-width="1.65"/>
<path d="M267.54 293.60 L272.14 298.20 L267.54 302.80 L262.94 298.20Z" fill="none" stroke="#000" stroke-width="1.65"/>
<path d="M282.51 293.10 L287.11 297.70 L282.51 302.30 L277.91 297.70Z" fill="none" stroke="#000" stroke-width="1.65"/>
<path d="M297.48 303.70 L302.08 308.30 L297.48 312.90 L292.88 308.30Z" fill="none" stroke="#000" stroke-width="1.65"/>
<path d="M312.45 307.70 L317.05 312.30 L312.45 316.90 L307.85 312.30Z" fill="none" stroke="#000" stroke-width="1.65"/>
<path d="M327.42 317.40 L332.02 322.00 L327.42 326.60 L322.82 322.00Z" fill="none" stroke="#000" stroke-width="1.65"/>
<circle cx="117.86" cy="342.20" r="5.0" fill="url(#rB)"/>
<circle cx="133.04" cy="342.20" r="5.0" fill="url(#rB)"/>
<circle cx="148.22" cy="342.20" r="5.0" fill="url(#rB)"/>
<circle cx="163.40" cy="342.20" r="5.0" fill="url(#rB)"/>
<circle cx="178.58" cy="342.20" r="5.0" fill="url(#rB)"/>
<circle cx="193.76" cy="347.20" r="5.0" fill="url(#rB)"/>
<circle cx="208.94" cy="347.20" r="5.0" fill="url(#rB)"/>
<circle cx="224.12" cy="360.20" r="5.0" fill="url(#rB)"/>
<circle cx="239.30" cy="385.70" r="5.0" fill="url(#rB)"/>
<circle cx="254.48" cy="408.30" r="5.0" fill="url(#rB)"/>
<circle cx="269.66" cy="415.20" r="5.0" fill="url(#rB)"/>
<circle cx="284.84" cy="428.00" r="5.0" fill="url(#rB)"/>
<circle cx="300.02" cy="439.00" r="5.0" fill="url(#rB)"/>
<circle cx="315.20" cy="465.00" r="5.0" fill="url(#rB)"/>
<circle cx="330.38" cy="478.00" r="5.0" fill="url(#rB)"/>
<circle cx="118.46" cy="350.50" r="4.2" fill="none" stroke="#000" stroke-width="1.55"/>
<circle cx="133.64" cy="350.50" r="4.2" fill="none" stroke="#000" stroke-width="1.55"/>
<circle cx="148.82" cy="350.50" r="4.2" fill="none" stroke="#000" stroke-width="1.55"/>
<circle cx="164.00" cy="350.50" r="4.2" fill="none" stroke="#000" stroke-width="1.55"/>
<circle cx="179.18" cy="350.50" r="4.2" fill="none" stroke="#000" stroke-width="1.55"/>
<circle cx="194.36" cy="350.60" r="4.2" fill="none" stroke="#000" stroke-width="1.55"/>
<circle cx="209.54" cy="350.60" r="4.2" fill="none" stroke="#000" stroke-width="1.55"/>
<circle cx="224.72" cy="386.30" r="4.2" fill="none" stroke="#000" stroke-width="1.55"/>
<circle cx="239.90" cy="413.30" r="4.2" fill="none" stroke="#000" stroke-width="1.55"/>
<circle cx="255.08" cy="408.30" r="4.2" fill="none" stroke="#000" stroke-width="1.55"/>
<circle cx="270.26" cy="410.80" r="4.2" fill="none" stroke="#000" stroke-width="1.55"/>
<circle cx="285.44" cy="435.40" r="4.2" fill="none" stroke="#000" stroke-width="1.55"/>
<circle cx="300.62" cy="435.70" r="4.2" fill="none" stroke="#000" stroke-width="1.55"/>
<circle cx="315.80" cy="470.00" r="4.2" fill="none" stroke="#000" stroke-width="1.55"/>
<circle cx="330.98" cy="482.00" r="4.2" fill="none" stroke="#000" stroke-width="1.55"/>
<rect x="113.06" y="385.10" width="9.6" height="9.6" fill="url(#bB)"/>
<rect x="128.24" y="385.10" width="9.6" height="9.6" fill="url(#bB)"/>
<rect x="143.42" y="385.10" width="9.6" height="9.6" fill="url(#bB)"/>
<rect x="158.60" y="385.10" width="9.6" height="9.6" fill="url(#bB)"/>
<rect x="173.78" y="385.10" width="9.6" height="9.6" fill="url(#bB)"/>
<rect x="188.96" y="385.20" width="9.6" height="9.6" fill="url(#bB)"/>
<rect x="204.14" y="395.60" width="9.6" height="9.6" fill="url(#bB)"/>
<rect x="219.32" y="410.40" width="9.6" height="9.6" fill="url(#bB)"/>
<rect x="234.50" y="405.10" width="9.6" height="9.6" fill="url(#bB)"/>
<rect x="249.68" y="410.40" width="9.6" height="9.6" fill="url(#bB)"/>
<rect x="264.86" y="420.20" width="9.6" height="9.6" fill="url(#bB)"/>
<rect x="280.04" y="430.20" width="9.6" height="9.6" fill="url(#bB)"/>
<rect x="295.22" y="434.80" width="9.6" height="9.6" fill="url(#bB)"/>
<rect x="310.40" y="465.20" width="9.6" height="9.6" fill="url(#bB)"/>
<rect x="325.58" y="478.00" width="9.6" height="9.6" fill="url(#bB)"/>
<rect x="113.66" y="412.00" width="8.4" height="8.4" fill="none" stroke="#111" stroke-width="1.6"/>
<rect x="128.84" y="412.00" width="8.4" height="8.4" fill="none" stroke="#111" stroke-width="1.6"/>
<rect x="144.02" y="412.00" width="8.4" height="8.4" fill="none" stroke="#111" stroke-width="1.6"/>
<rect x="159.20" y="412.00" width="8.4" height="8.4" fill="none" stroke="#111" stroke-width="1.6"/>
<rect x="174.38" y="412.00" width="8.4" height="8.4" fill="none" stroke="#111" stroke-width="1.6"/>
<rect x="189.56" y="421.40" width="8.4" height="8.4" fill="none" stroke="#111" stroke-width="1.6"/>
<rect x="204.74" y="416.80" width="8.4" height="8.4" fill="none" stroke="#111" stroke-width="1.6"/>
<rect x="219.92" y="421.50" width="8.4" height="8.4" fill="none" stroke="#111" stroke-width="1.6"/>
<rect x="235.10" y="435.80" width="8.4" height="8.4" fill="none" stroke="#111" stroke-width="1.6"/>
<rect x="250.28" y="441.70" width="8.4" height="8.4" fill="none" stroke="#111" stroke-width="1.6"/>
<rect x="265.46" y="449.00" width="8.4" height="8.4" fill="none" stroke="#111" stroke-width="1.6"/>
<rect x="280.64" y="459.30" width="8.4" height="8.4" fill="none" stroke="#111" stroke-width="1.6"/>
<rect x="295.82" y="461.70" width="8.4" height="8.4" fill="none" stroke="#111" stroke-width="1.6"/>
<rect x="311.00" y="473.80" width="8.4" height="8.4" fill="none" stroke="#111" stroke-width="1.6"/>
<rect x="326.18" y="481.10" width="8.4" height="8.4" fill="none" stroke="#111" stroke-width="1.6"/>
<circle cx="117.80" cy="577.80" r="5.0" fill="url(#rC)"/>
<circle cx="132.90" cy="577.80" r="5.0" fill="url(#rC)"/>
<circle cx="148.00" cy="577.80" r="5.0" fill="url(#rC)"/>
<circle cx="163.10" cy="577.80" r="5.0" fill="url(#rC)"/>
<circle cx="178.20" cy="577.80" r="5.0" fill="url(#rC)"/>
<circle cx="193.30" cy="587.60" r="5.0" fill="url(#rC)"/>
<circle cx="208.40" cy="583.20" r="5.0" fill="url(#rC)"/>
<circle cx="223.50" cy="587.50" r="5.0" fill="url(#rC)"/>
<circle cx="238.60" cy="602.30" r="5.0" fill="url(#rC)"/>
<circle cx="253.70" cy="607.50" r="5.0" fill="url(#rC)"/>
<circle cx="268.80" cy="614.50" r="5.0" fill="url(#rC)"/>
<circle cx="283.90" cy="624.80" r="5.0" fill="url(#rC)"/>
<circle cx="299.00" cy="627.20" r="5.0" fill="url(#rC)"/>
<circle cx="314.10" cy="638.90" r="5.0" fill="url(#rC)"/>
<circle cx="329.20" cy="646.30" r="5.0" fill="url(#rC)"/>
<circle cx="118.40" cy="591.30" r="4.2" fill="none" stroke="#000" stroke-width="1.55"/>
<circle cx="133.50" cy="591.30" r="4.2" fill="none" stroke="#000" stroke-width="1.55"/>
<circle cx="148.60" cy="591.30" r="4.2" fill="none" stroke="#000" stroke-width="1.55"/>
<circle cx="163.70" cy="591.30" r="4.2" fill="none" stroke="#000" stroke-width="1.55"/>
<circle cx="178.80" cy="591.30" r="4.2" fill="none" stroke="#000" stroke-width="1.55"/>
<circle cx="193.90" cy="597.00" r="4.2" fill="none" stroke="#000" stroke-width="1.55"/>
<circle cx="209.00" cy="592.90" r="4.2" fill="none" stroke="#000" stroke-width="1.55"/>
<circle cx="224.10" cy="597.50" r="4.2" fill="none" stroke="#000" stroke-width="1.55"/>
<circle cx="239.20" cy="608.00" r="4.2" fill="none" stroke="#000" stroke-width="1.55"/>
<circle cx="254.30" cy="615.30" r="4.2" fill="none" stroke="#000" stroke-width="1.55"/>
<circle cx="269.40" cy="620.50" r="4.2" fill="none" stroke="#000" stroke-width="1.55"/>
<circle cx="284.50" cy="632.00" r="4.2" fill="none" stroke="#000" stroke-width="1.55"/>
<circle cx="299.60" cy="635.30" r="4.2" fill="none" stroke="#000" stroke-width="1.55"/>
<circle cx="314.70" cy="647.00" r="4.2" fill="none" stroke="#000" stroke-width="1.55"/>
<circle cx="329.80" cy="649.00" r="4.2" fill="none" stroke="#000" stroke-width="1.55"/>
<rect x="113.10" y="597.00" width="9.4" height="9.4" fill="url(#bB)"/>
<rect x="128.20" y="597.00" width="9.4" height="9.4" fill="url(#bB)"/>
<rect x="143.30" y="597.00" width="9.4" height="9.4" fill="url(#bB)"/>
<rect x="158.40" y="597.00" width="9.4" height="9.4" fill="url(#bB)"/>
<rect x="173.50" y="597.00" width="9.4" height="9.4" fill="url(#bB)"/>
<rect x="188.60" y="594.80" width="9.4" height="9.4" fill="url(#bB)"/>
<rect x="203.70" y="594.80" width="9.4" height="9.4" fill="url(#bB)"/>
<rect x="218.80" y="596.80" width="9.4" height="9.4" fill="url(#bB)"/>
<rect x="233.90" y="607.10" width="9.4" height="9.4" fill="url(#bB)"/>
<rect x="249.00" y="614.60" width="9.4" height="9.4" fill="url(#bB)"/>
<rect x="264.10" y="618.80" width="9.4" height="9.4" fill="url(#bB)"/>
<rect x="279.20" y="628.80" width="9.4" height="9.4" fill="url(#bB)"/>
<rect x="294.30" y="633.10" width="9.4" height="9.4" fill="url(#bB)"/>
<rect x="309.40" y="644.00" width="9.4" height="9.4" fill="url(#bB)"/>
<rect x="324.50" y="644.80" width="9.4" height="9.4" fill="url(#bB)"/>
<rect x="113.60" y="604.20" width="8.4" height="8.4" fill="none" stroke="#111" stroke-width="1.6"/>
<rect x="128.70" y="604.20" width="8.4" height="8.4" fill="none" stroke="#111" stroke-width="1.6"/>
<rect x="143.80" y="604.20" width="8.4" height="8.4" fill="none" stroke="#111" stroke-width="1.6"/>
<rect x="158.90" y="604.20" width="8.4" height="8.4" fill="none" stroke="#111" stroke-width="1.6"/>
<rect x="174.00" y="604.20" width="8.4" height="8.4" fill="none" stroke="#111" stroke-width="1.6"/>
<rect x="189.10" y="608.50" width="8.4" height="8.4" fill="none" stroke="#111" stroke-width="1.6"/>
<rect x="204.20" y="610.70" width="8.4" height="8.4" fill="none" stroke="#111" stroke-width="1.6"/>
<rect x="219.30" y="613.80" width="8.4" height="8.4" fill="none" stroke="#111" stroke-width="1.6"/>
<rect x="234.40" y="618.30" width="8.4" height="8.4" fill="none" stroke="#111" stroke-width="1.6"/>
<rect x="249.50" y="618.30" width="8.4" height="8.4" fill="none" stroke="#111" stroke-width="1.6"/>
<rect x="264.60" y="623.00" width="8.4" height="8.4" fill="none" stroke="#111" stroke-width="1.6"/>
<rect x="279.70" y="632.60" width="8.4" height="8.4" fill="none" stroke="#111" stroke-width="1.6"/>
<rect x="294.80" y="637.90" width="8.4" height="8.4" fill="none" stroke="#111" stroke-width="1.6"/>
<rect x="309.90" y="644.50" width="8.4" height="8.4" fill="none" stroke="#111" stroke-width="1.6"/>
<rect x="325.00" y="645.30" width="8.4" height="8.4" fill="none" stroke="#111" stroke-width="1.6"/>
<circle cx="404.20" cy="96.00" r="4.2" fill="none" stroke="#000" stroke-width="1.55"/>
<circle cx="419.10" cy="96.00" r="4.2" fill="none" stroke="#000" stroke-width="1.55"/>
<circle cx="434.00" cy="96.00" r="4.2" fill="none" stroke="#000" stroke-width="1.55"/>
<circle cx="448.90" cy="96.00" r="4.2" fill="none" stroke="#000" stroke-width="1.55"/>
<circle cx="463.80" cy="96.00" r="4.2" fill="none" stroke="#000" stroke-width="1.55"/>
<circle cx="478.70" cy="96.00" r="4.2" fill="none" stroke="#000" stroke-width="1.55"/>
<circle cx="493.60" cy="96.00" r="4.2" fill="none" stroke="#000" stroke-width="1.55"/>
<circle cx="508.50" cy="96.00" r="4.2" fill="none" stroke="#000" stroke-width="1.55"/>
<circle cx="523.40" cy="95.50" r="4.2" fill="none" stroke="#000" stroke-width="1.55"/>
<circle cx="538.30" cy="115.20" r="4.2" fill="none" stroke="#000" stroke-width="1.55"/>
<circle cx="553.20" cy="131.00" r="4.2" fill="none" stroke="#000" stroke-width="1.55"/>
<circle cx="568.10" cy="135.50" r="4.2" fill="none" stroke="#000" stroke-width="1.55"/>
<circle cx="583.00" cy="137.30" r="4.2" fill="none" stroke="#000" stroke-width="1.55"/>
<circle cx="597.90" cy="149.00" r="4.2" fill="none" stroke="#000" stroke-width="1.55"/>
<circle cx="612.80" cy="166.00" r="4.2" fill="none" stroke="#000" stroke-width="1.55"/>
<circle cx="403.20" cy="92.60" r="5.0" fill="url(#rA)"/>
<circle cx="418.10" cy="92.60" r="5.0" fill="url(#rA)"/>
<circle cx="433.00" cy="92.60" r="5.0" fill="url(#rA)"/>
<circle cx="447.90" cy="92.60" r="5.0" fill="url(#rA)"/>
<circle cx="462.80" cy="92.60" r="5.0" fill="url(#rA)"/>
<circle cx="477.70" cy="92.60" r="5.0" fill="url(#rA)"/>
<circle cx="492.60" cy="92.60" r="5.0" fill="url(#rA)"/>
<circle cx="507.50" cy="89.90" r="5.0" fill="url(#rA)"/>
<circle cx="522.40" cy="95.20" r="5.0" fill="url(#rA)"/>
<circle cx="537.30" cy="125.20" r="5.0" fill="url(#rA)"/>
<circle cx="552.20" cy="134.50" r="5.0" fill="url(#rA)"/>
<circle cx="567.10" cy="135.00" r="5.0" fill="url(#rA)"/>
<circle cx="582.00" cy="132.00" r="5.0" fill="url(#rA)"/>
<circle cx="596.90" cy="154.00" r="5.0" fill="url(#rA)"/>
<circle cx="611.80" cy="163.00" r="5.0" fill="url(#rA)"/>
<rect x="398.20" y="97.10" width="10.0" height="10.0" fill="url(#bH)"/>
<rect x="413.10" y="97.10" width="10.0" height="10.0" fill="url(#bH)"/>
<rect x="428.00" y="97.10" width="10.0" height="10.0" fill="url(#bH)"/>
<rect x="442.90" y="97.10" width="10.0" height="10.0" fill="url(#bH)"/>
<rect x="457.80" y="97.10" width="10.0" height="10.0" fill="url(#bH)"/>
<rect x="472.70" y="97.10" width="10.0" height="10.0" fill="url(#bH)"/>
<rect x="487.60" y="97.10" width="10.0" height="10.0" fill="url(#bH)"/>
<rect x="502.50" y="95.80" width="10.0" height="10.0" fill="url(#bH)"/>
<rect x="517.40" y="108.60" width="10.0" height="10.0" fill="url(#bH)"/>
<rect x="532.30" y="125.50" width="10.0" height="10.0" fill="url(#bH)"/>
<rect x="547.20" y="130.80" width="10.0" height="10.0" fill="url(#bH)"/>
<rect x="562.10" y="124.30" width="10.0" height="10.0" fill="url(#bH)"/>
<rect x="577.00" y="144.40" width="10.0" height="10.0" fill="url(#bH)"/>
<rect x="591.90" y="153.20" width="10.0" height="10.0" fill="url(#bH)"/>
<rect x="606.80" y="161.00" width="10.0" height="10.0" fill="url(#bH)"/>
<rect x="399.00" y="105.60" width="8.4" height="8.4" fill="none" stroke="#111" stroke-width="1.6"/>
<rect x="413.90" y="105.60" width="8.4" height="8.4" fill="none" stroke="#111" stroke-width="1.6"/>
<rect x="428.80" y="105.60" width="8.4" height="8.4" fill="none" stroke="#111" stroke-width="1.6"/>
<rect x="443.70" y="105.60" width="8.4" height="8.4" fill="none" stroke="#111" stroke-width="1.6"/>
<rect x="458.60" y="105.60" width="8.4" height="8.4" fill="none" stroke="#111" stroke-width="1.6"/>
<rect x="473.50" y="105.60" width="8.4" height="8.4" fill="none" stroke="#111" stroke-width="1.6"/>
<rect x="488.40" y="105.60" width="8.4" height="8.4" fill="none" stroke="#111" stroke-width="1.6"/>
<rect x="503.30" y="117.30" width="8.4" height="8.4" fill="none" stroke="#111" stroke-width="1.6"/>
<rect x="518.20" y="127.10" width="8.4" height="8.4" fill="none" stroke="#111" stroke-width="1.6"/>
<rect x="533.10" y="134.60" width="8.4" height="8.4" fill="none" stroke="#111" stroke-width="1.6"/>
<rect x="548.00" y="127.80" width="8.4" height="8.4" fill="none" stroke="#111" stroke-width="1.6"/>
<rect x="562.90" y="146.80" width="8.4" height="8.4" fill="none" stroke="#111" stroke-width="1.6"/>
<rect x="577.80" y="145.20" width="8.4" height="8.4" fill="none" stroke="#111" stroke-width="1.6"/>
<rect x="592.70" y="158.80" width="8.4" height="8.4" fill="none" stroke="#111" stroke-width="1.6"/>
<rect x="607.60" y="164.80" width="8.4" height="8.4" fill="none" stroke="#111" stroke-width="1.6"/>
<path d="M404.20 239.05 L408.80 247.35 L399.60 247.35Z" fill="#c41414"/>
<path d="M419.00 239.05 L423.60 247.35 L414.40 247.35Z" fill="#c41414"/>
<path d="M433.80 239.05 L438.40 247.35 L429.20 247.35Z" fill="#c41414"/>
<path d="M448.60 239.05 L453.20 247.35 L444.00 247.35Z" fill="#c41414"/>
<path d="M463.40 239.05 L468.00 247.35 L458.80 247.35Z" fill="#c41414"/>
<path d="M478.20 239.05 L482.80 247.35 L473.60 247.35Z" fill="#c41414"/>
<path d="M493.00 239.05 L497.60 247.35 L488.40 247.35Z" fill="#c41414"/>
<path d="M507.80 245.85 L512.40 254.15 L503.20 254.15Z" fill="#c41414"/>
<path d="M522.60 248.85 L527.20 257.15 L518.00 257.15Z" fill="#c41414"/>
<path d="M537.40 269.85 L542.00 278.15 L532.80 278.15Z" fill="#c41414"/>
<path d="M552.20 270.85 L556.80 279.15 L547.60 279.15Z" fill="#c41414"/>
<path d="M567.00 262.45 L571.60 270.75 L562.40 270.75Z" fill="#c41414"/>
<path d="M581.80 233.55 L586.40 241.85 L577.20 241.85Z" fill="#c41414"/>
<path d="M596.60 260.85 L601.20 269.15 L592.00 269.15Z" fill="#c41414"/>
<path d="M404.20 242.10 L408.80 246.70 L404.20 251.30 L399.60 246.70Z" fill="none" stroke="#000" stroke-width="1.65"/>
<path d="M419.00 242.10 L423.60 246.70 L419.00 251.30 L414.40 246.70Z" fill="none" stroke="#000" stroke-width="1.65"/>
<path d="M433.80 242.10 L438.40 246.70 L433.80 251.30 L429.20 246.70Z" fill="none" stroke="#000" stroke-width="1.65"/>
<path d="M448.60 242.10 L453.20 246.70 L448.60 251.30 L444.00 246.70Z" fill="none" stroke="#000" stroke-width="1.65"/>
<path d="M463.40 242.10 L468.00 246.70 L463.40 251.30 L458.80 246.70Z" fill="none" stroke="#000" stroke-width="1.65"/>
<path d="M478.20 242.10 L482.80 246.70 L478.20 251.30 L473.60 246.70Z" fill="none" stroke="#000" stroke-width="1.65"/>
<path d="M493.00 242.10 L497.60 246.70 L493.00 251.30 L488.40 246.70Z" fill="none" stroke="#000" stroke-width="1.65"/>
<path d="M507.80 255.70 L512.40 260.30 L507.80 264.90 L503.20 260.30Z" fill="none" stroke="#000" stroke-width="1.65"/>
<path d="M522.60 257.70 L527.20 262.30 L522.60 266.90 L518.00 262.30Z" fill="none" stroke="#000" stroke-width="1.65"/>
<path d="M537.40 269.20 L542.00 273.80 L537.40 278.40 L532.80 273.80Z" fill="none" stroke="#000" stroke-width="1.65"/>
<path d="M552.20 265.20 L556.80 269.80 L552.20 274.40 L547.60 269.80Z" fill="none" stroke="#000" stroke-width="1.65"/>
<path d="M567.00 240.00 L571.60 244.60 L567.00 249.20 L562.40 244.60Z" fill="none" stroke="#000" stroke-width="1.65"/>
<path d="M581.80 242.20 L586.40 246.80 L581.80 251.40 L577.20 246.80Z" fill="none" stroke="#000" stroke-width="1.65"/>
<path d="M596.60 267.50 L601.20 272.10 L596.60 276.70 L592.00 272.10Z" fill="none" stroke="#000" stroke-width="1.65"/>
<path d="M611.40 305.50 L616.00 310.10 L611.40 314.70 L606.80 310.10Z" fill="none" stroke="#000" stroke-width="1.65"/>
<path d="M404.20 244.90 L409.40 250.10 L404.20 255.30 L399.00 250.10Z" fill="#3455a6"/>
<path d="M419.00 244.90 L424.20 250.10 L419.00 255.30 L413.80 250.10Z" fill="#3455a6"/>
<path d="M433.80 244.90 L439.00 250.10 L433.80 255.30 L428.60 250.10Z" fill="#3455a6"/>
<path d="M448.60 244.90 L453.80 250.10 L448.60 255.30 L443.40 250.10Z" fill="#3455a6"/>
<path d="M463.40 244.90 L468.60 250.10 L463.40 255.30 L458.20 250.10Z" fill="#3455a6"/>
<path d="M478.20 244.90 L483.40 250.10 L478.20 255.30 L473.00 250.10Z" fill="#3455a6"/>
<path d="M493.00 244.90 L498.20 250.10 L493.00 255.30 L487.80 250.10Z" fill="#3455a6"/>
<path d="M507.80 249.80 L513.00 255.00 L507.80 260.20 L502.60 255.00Z" fill="#3455a6"/>
<path d="M522.60 257.10 L527.80 262.30 L522.60 267.50 L517.40 262.30Z" fill="#3455a6"/>
<path d="M537.40 263.60 L542.60 268.80 L537.40 274.00 L532.20 268.80Z" fill="#3455a6"/>
<path d="M552.20 256.80 L557.40 262.00 L552.20 267.20 L547.00 262.00Z" fill="#3455a6"/>
<path d="M567.00 232.50 L572.20 237.70 L567.00 242.90 L561.80 237.70Z" fill="#3455a6"/>
<path d="M581.80 253.20 L587.00 258.40 L581.80 263.60 L576.60 258.40Z" fill="#3455a6"/>
<path d="M596.60 256.90 L601.80 262.10 L596.60 267.30 L591.40 262.10Z" fill="#3455a6"/>
<path d="M611.40 301.60 L616.60 306.80 L611.40 312.00 L606.20 306.80Z" fill="#3455a6"/>
<circle cx="406.40" cy="390.60" r="4.85" fill="url(#rC)"/>
<circle cx="420.90" cy="390.60" r="4.85" fill="url(#rC)"/>
<circle cx="435.40" cy="390.60" r="4.85" fill="url(#rC)"/>
<circle cx="449.90" cy="390.60" r="4.85" fill="url(#rC)"/>
<circle cx="464.40" cy="390.60" r="4.85" fill="url(#rC)"/>
<circle cx="478.90" cy="390.60" r="4.85" fill="url(#rC)"/>
<circle cx="493.40" cy="390.60" r="4.85" fill="url(#rC)"/>
<circle cx="507.90" cy="396.00" r="4.85" fill="url(#rC)"/>
<circle cx="522.40" cy="403.60" r="4.85" fill="url(#rC)"/>
<circle cx="536.90" cy="421.00" r="4.85" fill="url(#rC)"/>
<circle cx="551.40" cy="421.00" r="4.85" fill="url(#rC)"/>
<circle cx="565.90" cy="415.40" r="4.85" fill="url(#rC)"/>
<circle cx="580.40" cy="403.60" r="4.85" fill="url(#rC)"/>
<circle cx="594.90" cy="452.80" r="4.85" fill="url(#rC)"/>
<circle cx="609.40" cy="477.60" r="4.85" fill="url(#rC)"/>
<circle cx="407.00" cy="406.10" r="4.2" fill="none" stroke="#000" stroke-width="1.55"/>
<circle cx="421.50" cy="406.10" r="4.2" fill="none" stroke="#000" stroke-width="1.55"/>
<circle cx="436.00" cy="406.10" r="4.2" fill="none" stroke="#000" stroke-width="1.55"/>
<circle cx="450.50" cy="406.10" r="4.2" fill="none" stroke="#000" stroke-width="1.55"/>
<circle cx="465.00" cy="406.10" r="4.2" fill="none" stroke="#000" stroke-width="1.55"/>
<circle cx="479.50" cy="406.10" r="4.2" fill="none" stroke="#000" stroke-width="1.55"/>
<circle cx="494.00" cy="406.10" r="4.2" fill="none" stroke="#000" stroke-width="1.55"/>
<circle cx="508.50" cy="411.70" r="4.2" fill="none" stroke="#000" stroke-width="1.55"/>
<circle cx="523.00" cy="418.50" r="4.2" fill="none" stroke="#000" stroke-width="1.55"/>
<circle cx="537.50" cy="436.00" r="4.2" fill="none" stroke="#000" stroke-width="1.55"/>
<circle cx="552.00" cy="436.00" r="4.2" fill="none" stroke="#000" stroke-width="1.55"/>
<circle cx="566.50" cy="401.10" r="4.2" fill="none" stroke="#000" stroke-width="1.55"/>
<circle cx="581.00" cy="408.60" r="4.2" fill="none" stroke="#000" stroke-width="1.55"/>
<circle cx="595.50" cy="459.40" r="4.2" fill="none" stroke="#000" stroke-width="1.55"/>
<circle cx="610.00" cy="482.40" r="4.2" fill="none" stroke="#000" stroke-width="1.55"/>
<rect x="401.80" y="410.80" width="9.2" height="9.2" fill="url(#bB)"/>
<rect x="416.30" y="410.80" width="9.2" height="9.2" fill="url(#bB)"/>
<rect x="430.80" y="410.80" width="9.2" height="9.2" fill="url(#bB)"/>
<rect x="445.30" y="410.80" width="9.2" height="9.2" fill="url(#bB)"/>
<rect x="459.80" y="410.80" width="9.2" height="9.2" fill="url(#bB)"/>
<rect x="474.30" y="410.80" width="9.2" height="9.2" fill="url(#bB)"/>
<rect x="488.80" y="410.80" width="9.2" height="9.2" fill="url(#bB)"/>
<rect x="503.30" y="415.20" width="9.2" height="9.2" fill="url(#bB)"/>
<rect x="517.80" y="422.80" width="9.2" height="9.2" fill="url(#bB)"/>
<rect x="532.30" y="439.80" width="9.2" height="9.2" fill="url(#bB)"/>
<rect x="546.80" y="439.80" width="9.2" height="9.2" fill="url(#bB)"/>
<rect x="561.30" y="405.40" width="9.2" height="9.2" fill="url(#bB)"/>
<rect x="575.80" y="410.80" width="9.2" height="9.2" fill="url(#bB)"/>
<rect x="590.30" y="456.70" width="9.2" height="9.2" fill="url(#bB)"/>
<rect x="604.80" y="478.60" width="9.2" height="9.2" fill="url(#bB)"/>
<circle cx="407.00" cy="602.30" r="4.85" fill="url(#rC)"/>
<circle cx="421.70" cy="602.30" r="4.85" fill="url(#rC)"/>
<circle cx="436.40" cy="602.30" r="4.85" fill="url(#rC)"/>
<circle cx="451.10" cy="602.30" r="4.85" fill="url(#rC)"/>
<circle cx="465.80" cy="602.30" r="4.85" fill="url(#rC)"/>
<circle cx="480.50" cy="602.30" r="4.85" fill="url(#rC)"/>
<circle cx="495.20" cy="602.30" r="4.85" fill="url(#rC)"/>
<circle cx="509.90" cy="602.00" r="4.85" fill="url(#rC)"/>
<circle cx="524.60" cy="602.00" r="4.85" fill="url(#rC)"/>
<circle cx="539.30" cy="607.20" r="4.85" fill="url(#rC)"/>
<circle cx="554.00" cy="614.80" r="4.85" fill="url(#rC)"/>
<circle cx="568.70" cy="620.00" r="4.85" fill="url(#rC)"/>
<circle cx="583.40" cy="625.00" r="4.85" fill="url(#rC)"/>
<circle cx="598.10" cy="642.00" r="4.85" fill="url(#rC)"/>
<circle cx="612.80" cy="645.50" r="4.85" fill="url(#rC)"/>
<circle cx="408.00" cy="607.50" r="4.2" fill="none" stroke="#000" stroke-width="1.55"/>
<circle cx="422.70" cy="607.50" r="4.2" fill="none" stroke="#000" stroke-width="1.55"/>
<circle cx="437.40" cy="607.50" r="4.2" fill="none" stroke="#000" stroke-width="1.55"/>
<circle cx="452.10" cy="607.50" r="4.2" fill="none" stroke="#000" stroke-width="1.55"/>
<circle cx="466.80" cy="607.50" r="4.2" fill="none" stroke="#000" stroke-width="1.55"/>
<circle cx="481.50" cy="607.50" r="4.2" fill="none" stroke="#000" stroke-width="1.55"/>
<circle cx="496.20" cy="607.50" r="4.2" fill="none" stroke="#000" stroke-width="1.55"/>
<circle cx="510.90" cy="602.20" r="4.2" fill="none" stroke="#000" stroke-width="1.55"/>
<circle cx="525.60" cy="602.20" r="4.2" fill="none" stroke="#000" stroke-width="1.55"/>
<circle cx="540.30" cy="612.30" r="4.2" fill="none" stroke="#000" stroke-width="1.55"/>
<circle cx="555.00" cy="619.30" r="4.2" fill="none" stroke="#000" stroke-width="1.55"/>
<circle cx="569.70" cy="624.20" r="4.2" fill="none" stroke="#000" stroke-width="1.55"/>
<circle cx="584.40" cy="627.50" r="4.2" fill="none" stroke="#000" stroke-width="1.55"/>
<circle cx="599.10" cy="644.00" r="4.2" fill="none" stroke="#000" stroke-width="1.55"/>
<circle cx="613.80" cy="647.50" r="4.2" fill="none" stroke="#000" stroke-width="1.55"/>
<rect x="402.40" y="604.90" width="9.2" height="9.2" fill="url(#bB)"/>
<rect x="417.10" y="604.90" width="9.2" height="9.2" fill="url(#bB)"/>
<rect x="431.80" y="604.90" width="9.2" height="9.2" fill="url(#bB)"/>
<rect x="446.50" y="604.90" width="9.2" height="9.2" fill="url(#bB)"/>
<rect x="461.20" y="604.90" width="9.2" height="9.2" fill="url(#bB)"/>
<rect x="475.90" y="604.90" width="9.2" height="9.2" fill="url(#bB)"/>
<rect x="490.60" y="604.90" width="9.2" height="9.2" fill="url(#bB)"/>
<rect x="505.30" y="606.40" width="9.2" height="9.2" fill="url(#bB)"/>
<rect x="520.00" y="606.40" width="9.2" height="9.2" fill="url(#bB)"/>
<rect x="534.70" y="608.90" width="9.2" height="9.2" fill="url(#bB)"/>
<rect x="549.40" y="615.10" width="9.2" height="9.2" fill="url(#bB)"/>
<rect x="564.10" y="620.80" width="9.2" height="9.2" fill="url(#bB)"/>
<rect x="578.80" y="619.00" width="9.2" height="9.2" fill="url(#bB)"/>
<rect x="593.50" y="639.60" width="9.2" height="9.2" fill="url(#bB)"/>
<rect x="608.20" y="643.30" width="9.2" height="9.2" fill="url(#bB)"/>
<rect x="304.5" y="36.5" width="61.0" height="70.0" fill="#fff" stroke="#5a5a5a" stroke-width="1.0"/>
<circle cx="314.10" cy="47.90" r="5.0" fill="url(#rA)"/>
<text x="325.6" y="50.8" font-size="12" fill="#111">42</text>
<text x="343.8" y="46.7" font-size="10.2">o</text>
<text x="349.3" y="50.8" font-size="12" fill="#111">C</text>
<circle cx="314.10" cy="63.60" r="4.2" fill="none" stroke="#000" stroke-width="1.55"/>
<text x="325.6" y="66.7" font-size="12" fill="#111">50</text>
<text x="343.8" y="62.6" font-size="10.2">o</text>
<text x="349.3" y="66.7" font-size="12" fill="#111">C</text>
<rect x="309.10" y="74.40" width="10.0" height="10.0" fill="url(#bA)"/>
<text x="325.6" y="83.4" font-size="12" fill="#111">65</text>
<text x="343.8" y="79.3" font-size="10.2">o</text>
<text x="349.3" y="83.4" font-size="12" fill="#111">C</text>
<rect x="309.90" y="92.20" width="8.4" height="8.4" fill="none" stroke="#111" stroke-width="1.6"/>
<text x="325.6" y="100.8" font-size="12" fill="#111">80</text>
<text x="343.8" y="96.7" font-size="10.2">o</text>
<text x="349.3" y="100.8" font-size="12" fill="#111">C</text>
<rect x="305.5" y="184.5" width="60.0" height="70.0" fill="#fff" stroke="#5a5a5a" stroke-width="1.0"/>
<path d="M315.20 190.35 L320.20 199.65 L310.20 199.65Z" fill="url(#tR)"/>
<text x="326.2" y="198.7" font-size="12" fill="#111">42</text>
<text x="344.4" y="194.6" font-size="10.2">o</text>
<text x="349.9" y="198.7" font-size="12" fill="#111">C</text>
<path d="M315.20 206.60 L319.50 214.40 L310.90 214.40Z" fill="none" stroke="#000" stroke-width="1.65" stroke-linejoin="miter"/>
<text x="326.2" y="214.4" font-size="12" fill="#111">50</text>
<text x="344.4" y="210.3" font-size="10.2">o</text>
<text x="349.9" y="214.4" font-size="12" fill="#111">C</text>
<path d="M315.20 221.80 L320.40 227.00 L315.20 232.20 L310.00 227.00Z" fill="url(#dB)"/>
<text x="326.2" y="230.8" font-size="12" fill="#111">65</text>
<text x="344.4" y="226.7" font-size="10.2">o</text>
<text x="349.9" y="230.8" font-size="12" fill="#111">C</text>
<path d="M315.20 238.80 L319.80 243.40 L315.20 248.00 L310.60 243.40Z" fill="none" stroke="#000" stroke-width="1.65"/>
<text x="326.2" y="247.8" font-size="12" fill="#111">80</text>
<text x="344.4" y="243.7" font-size="10.2">o</text>
<text x="349.9" y="247.8" font-size="12" fill="#111">C</text>
<rect x="303.5" y="337.5" width="61.0" height="70.0" fill="#fff" stroke="#5a5a5a" stroke-width="1.0"/>
<circle cx="313.50" cy="347.70" r="5.0" fill="url(#rA)"/>
<text x="324.8" y="351.4" font-size="12" fill="#111">42</text>
<text x="343.0" y="347.3" font-size="10.2">o</text>
<text x="348.5" y="351.4" font-size="12" fill="#111">C</text>
<circle cx="313.50" cy="363.40" r="4.2" fill="none" stroke="#000" stroke-width="1.55"/>
<text x="324.8" y="367.1" font-size="12" fill="#111">50</text>
<text x="343.0" y="363.0" font-size="10.2">o</text>
<text x="348.5" y="367.1" font-size="12" fill="#111">C</text>
<rect x="308.50" y="374.80" width="10.0" height="10.0" fill="url(#bA)"/>
<text x="324.8" y="383.5" font-size="12" fill="#111">65</text>
<text x="343.0" y="379.4" font-size="10.2">o</text>
<text x="348.5" y="383.5" font-size="12" fill="#111">C</text>
<rect x="309.30" y="392.60" width="8.4" height="8.4" fill="none" stroke="#111" stroke-width="1.6"/>
<text x="324.8" y="400.5" font-size="12" fill="#111">80</text>
<text x="343.0" y="396.4" font-size="10.2">o</text>
<text x="348.5" y="400.5" font-size="12" fill="#111">C</text>
<rect x="303.5" y="498.5" width="61.0" height="70.0" fill="#fff" stroke="#5a5a5a" stroke-width="1.0"/>
<circle cx="313.50" cy="509.50" r="5.0" fill="url(#rA)"/>
<text x="324.8" y="512.8" font-size="12" fill="#111">42</text>
<text x="343.0" y="508.7" font-size="10.2">o</text>
<text x="348.5" y="512.8" font-size="12" fill="#111">C</text>
<circle cx="313.50" cy="525.20" r="4.2" fill="none" stroke="#000" stroke-width="1.55"/>
<text x="324.8" y="529.2" font-size="12" fill="#111">50</text>
<text x="343.0" y="525.1" font-size="10.2">o</text>
<text x="348.5" y="529.2" font-size="12" fill="#111">C</text>
<rect x="308.50" y="536.20" width="10.0" height="10.0" fill="url(#bA)"/>
<text x="324.8" y="545.5" font-size="12" fill="#111">65</text>
<text x="343.0" y="541.4" font-size="10.2">o</text>
<text x="348.5" y="545.5" font-size="12" fill="#111">C</text>
<rect x="309.30" y="554.00" width="8.4" height="8.4" fill="none" stroke="#111" stroke-width="1.6"/>
<text x="324.8" y="561.9" font-size="12" fill="#111">80</text>
<text x="343.0" y="557.8" font-size="10.2">o</text>
<text x="348.5" y="561.9" font-size="12" fill="#111">C</text>
<rect x="586.5" y="38.5" width="62.0" height="71.0" fill="#fff" stroke="#5a5a5a" stroke-width="1.0"/>
<circle cx="595.40" cy="48.00" r="5.0" fill="url(#rA)"/>
<text x="607.5" y="51.5" font-size="12" fill="#111">60</text>
<text x="625.7" y="47.4" font-size="10.2">o</text>
<text x="631.2" y="51.5" font-size="12" fill="#111">C</text>
<circle cx="595.40" cy="64.10" r="4.2" fill="none" stroke="#000" stroke-width="1.55"/>
<text x="607.5" y="68.3" font-size="12" fill="#111">65</text>
<text x="625.7" y="64.2" font-size="10.2">o</text>
<text x="631.2" y="68.3" font-size="12" fill="#111">C</text>
<rect x="590.40" y="76.50" width="10.0" height="10.0" fill="url(#bA)"/>
<text x="607.5" y="86.3" font-size="12" fill="#111">69</text>
<text x="625.7" y="82.2" font-size="10.2">o</text>
<text x="631.2" y="86.3" font-size="12" fill="#111">C</text>
<rect x="591.20" y="94.80" width="8.4" height="8.4" fill="none" stroke="#111" stroke-width="1.6"/>
<text x="607.5" y="101.8" font-size="12" fill="#111">85</text>
<text x="625.7" y="97.7" font-size="10.2">o</text>
<text x="631.2" y="101.8" font-size="12" fill="#111">C</text>
<rect x="586.5" y="181.5" width="62.0" height="53.0" fill="#fff" stroke="#5a5a5a" stroke-width="1.0"/>
<path d="M595.00 187.65 L599.60 195.95 L590.40 195.95Z" fill="#c41414"/>
<text x="607.5" y="195.2" font-size="12" fill="#111">60</text>
<text x="625.7" y="191.1" font-size="10.2">o</text>
<text x="631.2" y="195.2" font-size="12" fill="#111">C</text>
<path d="M595.00 203.30 L599.60 207.90 L595.00 212.50 L590.40 207.90Z" fill="none" stroke="#000" stroke-width="1.65"/>
<text x="607.5" y="211.3" font-size="12" fill="#111">65</text>
<text x="625.7" y="207.2" font-size="10.2">o</text>
<text x="631.2" y="211.3" font-size="12" fill="#111">C</text>
<path d="M595.00 218.80 L600.20 224.00 L595.00 229.20 L589.80 224.00Z" fill="#3455a6"/>
<text x="607.5" y="228.1" font-size="12" fill="#111">69</text>
<text x="625.7" y="224.0" font-size="10.2">o</text>
<text x="631.2" y="228.1" font-size="12" fill="#111">C</text>
<rect x="586.5" y="336.5" width="62.0" height="53.0" fill="#fff" stroke="#5a5a5a" stroke-width="1.0"/>
<circle cx="595.40" cy="346.80" r="5.0" fill="url(#rA)"/>
<text x="607.5" y="350.2" font-size="12" fill="#111">60</text>
<text x="625.7" y="346.1" font-size="10.2">o</text>
<text x="631.2" y="350.2" font-size="12" fill="#111">C</text>
<circle cx="595.40" cy="362.90" r="4.2" fill="none" stroke="#000" stroke-width="1.55"/>
<text x="607.5" y="366.3" font-size="12" fill="#111">65</text>
<text x="625.7" y="362.2" font-size="10.2">o</text>
<text x="631.2" y="366.3" font-size="12" fill="#111">C</text>
<rect x="590.40" y="374.00" width="10.0" height="10.0" fill="url(#bA)"/>
<text x="607.5" y="383.1" font-size="12" fill="#111">69</text>
<text x="625.7" y="379.0" font-size="10.2">o</text>
<text x="631.2" y="383.1" font-size="12" fill="#111">C</text>
<rect x="586.5" y="498.5" width="62.0" height="53.0" fill="#fff" stroke="#5a5a5a" stroke-width="1.0"/>
<circle cx="595.40" cy="508.70" r="5.0" fill="url(#rA)"/>
<text x="607.5" y="511.5" font-size="12" fill="#111">60</text>
<text x="625.7" y="507.4" font-size="10.2">o</text>
<text x="631.2" y="511.5" font-size="12" fill="#111">C</text>
<circle cx="595.40" cy="524.50" r="4.2" fill="none" stroke="#000" stroke-width="1.55"/>
<text x="607.5" y="528.3" font-size="12" fill="#111">65</text>
<text x="625.7" y="524.2" font-size="10.2">o</text>
<text x="631.2" y="528.3" font-size="12" fill="#111">C</text>
<rect x="590.40" y="535.90" width="10.0" height="10.0" fill="url(#bA)"/>
<text x="607.5" y="545.0" font-size="12" fill="#111">69</text>
<text x="625.7" y="540.9" font-size="10.2">o</text>
<text x="631.2" y="545.0" font-size="12" fill="#111">C</text>
<text x="32.3" y="20.6" font-size="24.5" text-anchor="start" font-weight="bold">A</text>
<text x="30.8" y="336.8" font-size="24.5" text-anchor="start" font-weight="bold">B</text>
<text x="144.4" y="19.1" font-size="20.65">DPPC</text>
<rect x="203.6" y="11.9" width="10" height="1.8" fill="#000"/>
<text x="217.3" y="19.1" font-size="20.6" font-style="italic">d</text>
<text x="230.4" y="22.7" font-size="14">62</text>
<text x="455.0" y="19.1" font-size="20.65">DPPE</text>
<rect x="514.5" y="11.9" width="10" height="1.8" fill="#000"/>
<text x="527.3" y="19.1" font-size="20.6" font-style="italic">d</text>
<text x="540.4" y="22.7" font-size="14">62</text>
<text x="73.28" y="42.44" font-size="20.0" text-anchor="end" >40</text>
<text x="73.28" y="109.64" font-size="20.0" text-anchor="end" >20</text>
<text x="72.48" y="183.49" font-size="20.0" text-anchor="end" >0</text>
<text x="72.78" y="257.64" font-size="20.0" text-anchor="end" >20</text>
<text x="72.68" y="331.44" font-size="20.0" text-anchor="end" >0</text>
<text x="72.44" y="373.49" font-size="20.0" text-anchor="end" >5</text>
<text x="73.94" y="410.54" font-size="20.0" text-anchor="end" >3.5</text>
<text x="73.11" y="447.59" font-size="20.0" text-anchor="end" >2</text>
<text x="73.94" y="485.44" font-size="20.0" text-anchor="end" >0.5</text>
<text x="70.54" y="535.49" font-size="20.0" text-anchor="end" >5</text>
<text x="72.74" y="572.44" font-size="20.0" text-anchor="end" >3.5</text>
<text x="71.01" y="609.89" font-size="20.0" text-anchor="end" >2</text>
<text x="72.94" y="646.69" font-size="20.0" text-anchor="end" >0.5</text>
<text x="87.0" y="679.6" font-size="20" text-anchor="middle" >0</text>
<text x="148.4" y="679.6" font-size="20" text-anchor="middle" >4</text>
<text x="207.5" y="679.6" font-size="20" text-anchor="middle" >8</text>
<text x="267.7" y="678.3" font-size="20" text-anchor="middle" >12</text>
<text x="327.8" y="679.6" font-size="20" text-anchor="middle" >16</text>
<text x="374.8" y="679.6" font-size="20" text-anchor="middle" >0</text>
<text x="436.0" y="679.6" font-size="20" text-anchor="middle" >4</text>
<text x="494.3" y="679.6" font-size="20" text-anchor="middle" >8</text>
<text x="553.6" y="678.3" font-size="20" text-anchor="middle" >12</text>
<text x="614.5" y="679.6" font-size="20" text-anchor="middle" >16</text>
<text x="276.25" y="718.8" font-size="24.7">carbon index</text>
<text x="426.2" y="718.8" font-size="24.7">(</text>
<text x="437.3" y="718.8" font-size="24.7" font-style="italic">i</text>
<text x="448.8" y="718.8" font-size="24.7">)</text>
<g transform="rotate(-90)"><text x="-166.61" y="22.20" font-size="23" font-style="italic">R</text><text x="-150.62" y="28.90" font-size="14.7">1Z</text><text x="-147.44" y="11.70" font-size="13.5">(<tspan font-style="italic" dx="1.8">i</tspan><tspan dx="2.2">)</tspan></text><text x="-121.90" y="22.30" font-size="20.5" font-style="italic">/</text><text x="-109.64" y="22.50" font-size="23">s</text><text x="-97.24" y="14.50" font-size="15">−1</text></g>
<g transform="rotate(-90)"><text x="-288.01" y="22.20" font-size="23" font-style="italic">R</text><text x="-272.02" y="28.90" font-size="14.7">1Q</text><text x="-268.84" y="12.40" font-size="13.5">(<tspan font-style="italic" dx="1.8">i</tspan><tspan dx="2.2">)</tspan></text><text x="-243.30" y="22.30" font-size="20.5" font-style="italic">/</text><text x="-231.04" y="22.50" font-size="23">s</text><text x="-218.64" y="14.50" font-size="15">−1</text></g>
<g transform="rotate(-90)"><text x="-461.04" y="19.10" font-size="23" font-style="italic">J</text><text x="-447.90" y="19.20" font-size="19.4">(</text><text x="-440.07" y="17.80" font-size="20.6" font-style="italic">ω</text><text x="-426.51" y="22.60" font-size="13">0</text><text x="-415.81" y="19.20" font-size="19.4">)</text><text x="-405.00" y="22.90" font-size="23">/</text><text x="-398.49" y="22.90" font-size="23.5">10</text><text x="-372.44" y="15.90" font-size="15">11</text><text x="-350.45" y="23.50" font-size="23.5">s</text><text x="-340.04" y="16.50" font-size="15">−1</text></g>
<g transform="rotate(-90)"><text x="-648.94" y="20.90" font-size="23" font-style="italic">J</text><text x="-633.80" y="20.20" font-size="19.4">(</text><text x="-627.26" y="20.90" font-size="23">2</text><text x="-614.37" y="23.40" font-size="20.6" font-style="italic">ω</text><text x="-599.81" y="25.50" font-size="13">0</text><text x="-588.21" y="20.20" font-size="19.4">)</text><text x="-575.50" y="23.20" font-size="23">/</text><text x="-568.39" y="22.80" font-size="23.5">10</text><text x="-541.14" y="15.80" font-size="15">11</text><text x="-520.35" y="23.20" font-size="23.5">s</text><text x="-510.24" y="15.80" font-size="15">−1</text></g>
</svg>
</body></html>
